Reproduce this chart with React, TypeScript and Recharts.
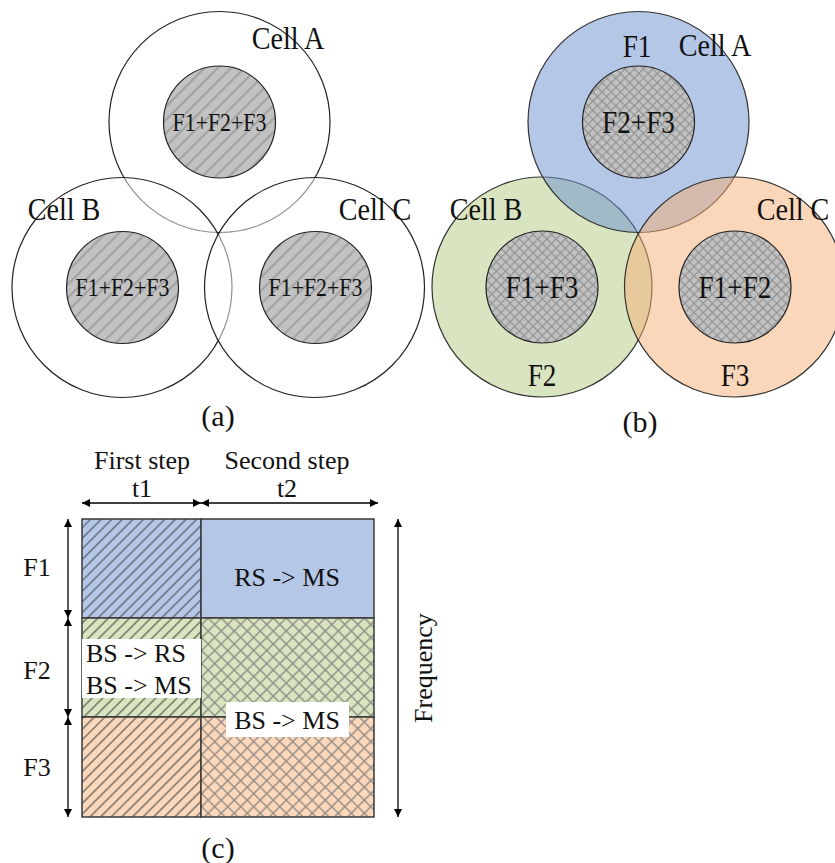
// Cell / frequency reuse diagram: (a) full reuse, (b) partial reuse with
// soft colouring, (c) the two-step time/frequency plan. Drawn on a 1:1
// numeric canvas so every mark goes through the chart's own x/y scales.

import {
  ComposedChart, ReferenceArea, ReferenceLine, Scatter, XAxis, YAxis,
} from "recharts";

const W = 835;
const H = 863;

// (a) outer cells, drawn in this order
const cellsA = [
  { name: "A", x: 219.5, y: 122, r: 110.5 },
  { name: "B", x: 122, y: 287.5, r: 110 },
  { name: "C", x: 314.5, y: 287.5, r: 110 },
];
// (b) outer cells (green under blue under orange)
const cellsB = [
  { name: "B", x: 542, y: 287, r: 110 },
  { name: "A", x: 638.5, y: 122, r: 110.5 },
  { name: "C", x: 734.5, y: 287, r: 110 },
];
const innerA = [
  { x: 219.5, y: 122, r: 56, text: "F1+F2+F3" },
  { x: 122.5, y: 287.5, r: 56, text: "F1+F2+F3" },
  { x: 315.5, y: 287.5, r: 56, text: "F1+F2+F3" },
];
const innerB = [
  { x: 638.5, y: 122, r: 56, text: "F2+F3" },
  { x: 542, y: 287, r: 56, text: "F1+F3" },
  { x: 735, y: 287, r: 56, text: "F1+F2" },
];
const cellNames = [
  { x: 288, y: 38, text: "Cell A" },
  { x: 64, y: 209, text: "Cell B" },
  { x: 375, y: 209, text: "Cell C" },
  { x: 715, y: 45, text: "Cell A" },
  { x: 486, y: 209, text: "Cell B" },
  { x: 793, y: 209, text: "Cell C" },
];
const bandNames = [
  { x: 637, y: 46, text: "F1" },
  { x: 542, y: 375, text: "F2" },
  { x: 735, y: 375, text: "F3" },
];
const captions = [
  { x: 218, y: 415, text: "(a)" },
  { x: 640, y: 421, text: "(b)" },
  { x: 218, y: 847, text: "(c)" },
];

// (c) time/frequency grid
const steps = [
  { name: "t1", title: "First step", x1: 82, x2: 201 },
  { name: "t2", title: "Second step", x1: 201, x2: 374 },
];
const bands = [
  { name: "F1", y1: 519, y2: 618 },
  { name: "F2", y1: 618, y2: 717 },
  { name: "F3", y1: 717, y2: 817 },
];
// which pattern each band uses in each step
const grid = [
  { band: "F1", step: "t1", fill: "diagBlue" },
  { band: "F1", step: "t2", fill: "plainBlue" },
  { band: "F2", step: "t1", fill: "diagGreen" },
  { band: "F2", step: "t2", fill: "crossGreen" },
  { band: "F3", step: "t1", fill: "diagOrange" },
  { band: "F3", step: "t2", fill: "crossOrange" },
];
const linkBoxes = [
  { x1: 82, x2: 201, y1: 639, y2: 698 },
  { x1: 226, x2: 349, y1: 702, y2: 737 },
];
const linkLabels = [
  { x: 86, y: 653, text: "BS -> RS", anchor: "start" },
  { x: 86, y: 685, text: "BS -> MS", anchor: "start" },
  { x: 287, y: 577, text: "RS -> MS", anchor: "middle" },
  { x: 287, y: 720, text: "BS -> MS", anchor: "middle" },
];
const stepLabels = [
  { x: 142, y: 460, text: "First step" },
  { x: 142, y: 488, text: "t1" },
  { x: 287, y: 460, text: "Second step" },
  { x: 287, y: 488, text: "t2" },
  { x: 37, y: 567, text: "F1" },
  { x: 37, y: 670, text: "F2" },
  { x: 37, y: 767, text: "F3" },
];
const arrows = [
  [{ x: 82, y: 503 }, { x: 201, y: 503 }],
  [{ x: 201, y: 503 }, { x: 378, y: 503 }],
  [{ x: 68, y: 519 }, { x: 68, y: 618 }],
  [{ x: 68, y: 618 }, { x: 68, y: 717 }],
  [{ x: 68, y: 717 }, { x: 68, y: 817 }],
  [{ x: 398, y: 519 }, { x: 398, y: 817 }],
];
const axisTitle = [{ x: 423, y: 668, text: "Frequency" }];

const SERIF = "Liberation Serif";
const soft: Record<string, string> = { A: "#698fcf", B: "#b3c983", C: "#f5af75" };
const plain: Record<string, string> = { F1: "#b4c7e7", F2: "#d9e4c1", F3: "#fbd7bb" };

const textShape = (size: number, sx = 1, rotate = 0) => (p: any) => {
  const d = p.payload;
  return (
    <text
      transform={`translate(${p.cx},${p.cy}) rotate(${rotate}) scale(${sx},1)`}
      textAnchor={d.anchor || "middle"} dominantBaseline="central"
      fontFamily={SERIF} fontSize={size} fill="#111"
    >
      {d.text}
    </text>
  );
};

const diag = (id: string, base: string, line: string, d: number, w: number) => (
  <pattern id={id} width={d} height={d} patternUnits="userSpaceOnUse" patternTransform="rotate(45)">
    <rect width={d} height={d} fill={base} />
    <line x1={d / 2} y1={0} x2={d / 2} y2={d} stroke={line} strokeWidth={w} />
  </pattern>
);
const cross = (id: string, base: string, line: string, d: number, w: number) => (
  <pattern id={id} width={d} height={d} patternUnits="userSpaceOnUse" patternTransform="rotate(45)">
    <rect width={d} height={d} fill={base} />
    <line x1={d / 2} y1={0} x2={d / 2} y2={d} stroke={line} strokeWidth={w} />
    <line x1={0} y1={d / 2} x2={d} y2={d / 2} stroke={line} strokeWidth={w} />
  </pattern>
);

export default function App() {
  const stepOf = (n: string) => steps.find((s) => s.name === n)!;
  const bandOf = (n: string) => bands.find((b) => b.name === n)!;

  return (
    <div style={{ position: "absolute", left: 0, top: 0, background: "#fff" }}>
      <ComposedChart width={W} height={H} margin={{ top: 0, right: 0, bottom: 0, left: 0 }}>
        <defs>
          {diag("stripeGrey", "#c2c2c2", "#a3a3a3", 9.4, 2.2)}
          {cross("hatchGrey", "#c2c2c2", "#929292", 6.5, 1.2)}
          {diag("diagBlue", plain.F1, "#686e7a", 7.5, 1.5)}
          {diag("diagGreen", plain.F2, "#6f7466", 7.5, 1.5)}
          {diag("diagOrange", plain.F3, "#7a7066", 7.5, 1.5)}
          {cross("crossGreen", plain.F2, "#8c9084", 9.2, 1.4)}
          {cross("crossOrange", plain.F3, "#968c84", 9.2, 1.4)}
          <pattern id="plainBlue" width={4} height={4} patternUnits="userSpaceOnUse">
            <rect width={4} height={4} fill={plain.F1} />
          </pattern>
          <marker id="tip" viewBox="0 0 10 10" refX={10} refY={5} markerWidth={9} markerHeight={8}
                  markerUnits="userSpaceOnUse" orient="auto-start-reverse">
            <path d="M0,0 L10,5 L0,10 z" fill="#000" />
          </marker>
        </defs>
        <XAxis type="number" dataKey="x" domain={[0, W]} hide />
        <YAxis type="number" dataKey="y" domain={[0, H]} reversed hide />

        {grid.map((g) => {
          const s = stepOf(g.step);
          const b = bandOf(g.band);
          return (
            <ReferenceArea key={g.band + g.step} x1={s.x1} x2={s.x2} y1={b.y1} y2={b.y2}
                           fill={`url(#${g.fill})`} fillOpacity={1} stroke="#3a3a3a" strokeWidth={1.5} />
          );
        })}
        {linkBoxes.map((b, i) => (
          <ReferenceArea key={"box" + i} x1={b.x1} x2={b.x2} y1={b.y1} y2={b.y2}
                         fill="#fff" fillOpacity={1} stroke="none" />
        ))}
        {arrows.map((seg, i) => (
          <ReferenceLine key={"ar" + i} segment={seg}
                         shape={(p: any) => (
                           <line x1={p.x1} y1={p.y1} x2={p.x2} y2={p.y2} stroke="#000" strokeWidth={1.3}
                                 markerStart="url(#tip)" markerEnd="url(#tip)" />
                         )} />
        ))}

        <Scatter data={cellsA} isAnimationActive={false}
                 shape={(p: any) => (
                   <circle cx={p.cx} cy={p.cy} r={p.payload.r} fill="#fff" fillOpacity={0.5}
                           stroke="#222" strokeWidth={1.2} />
                 )} />
        <Scatter data={cellsB} isAnimationActive={false}
                 shape={(p: any) => (
                   <circle cx={p.cx} cy={p.cy} r={p.payload.r} fill={soft[p.payload.name]} fillOpacity={0.5}
                           stroke="#333" strokeWidth={1.2} />
                 )} />
        <Scatter data={innerA} isAnimationActive={false}
                 shape={(p: any) => (
                   <circle cx={p.cx} cy={p.cy} r={p.payload.r} fill="url(#stripeGrey)" stroke="#222" strokeWidth={1.2} />
                 )} />
        <Scatter data={innerB} isAnimationActive={false}
                 shape={(p: any) => (
                   <circle cx={p.cx} cy={p.cy} r={p.payload.r} fill="url(#hatchGrey)" stroke="#222" strokeWidth={1.2} />
                 )} />

        <Scatter data={innerA} isAnimationActive={false} shape={textShape(26, 0.84)} />
        <Scatter data={innerB} isAnimationActive={false} shape={textShape(32, 0.85)} />
        <Scatter data={cellNames} isAnimationActive={false} shape={textShape(32, 0.88)} />
        <Scatter data={bandNames} isAnimationActive={false} shape={textShape(32, 0.85)} />
        <Scatter data={captions} isAnimationActive={false} shape={textShape(30)} />
        <Scatter data={stepLabels} isAnimationActive={false} shape={textShape(26)} />
        <Scatter data={linkLabels} isAnimationActive={false} shape={textShape(26)} />
        <Scatter data={axisTitle} isAnimationActive={false} shape={textShape(26, 1, -90)} />
      </ComposedChart>
    </div>
  );
}
